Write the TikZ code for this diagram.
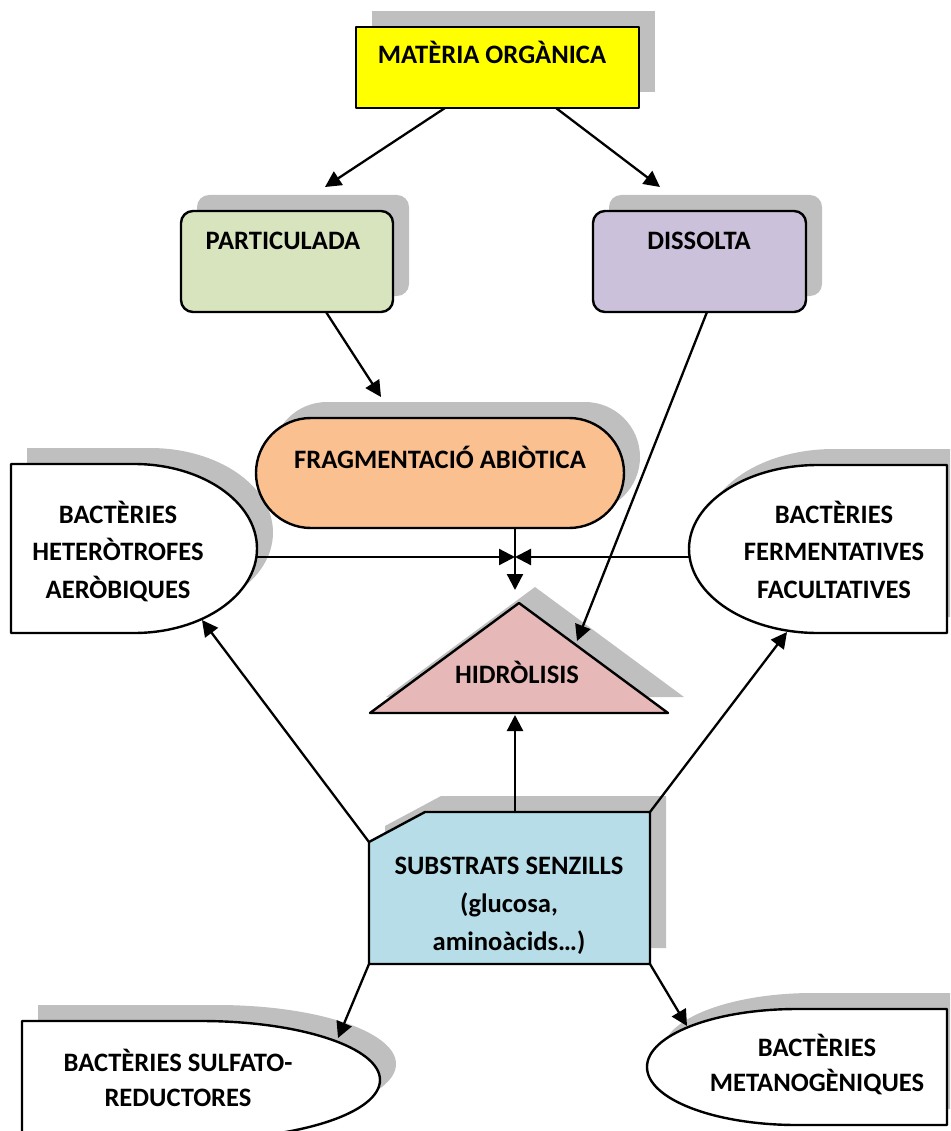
\documentclass[tikz,border=0pt]{standalone}
\usepackage{fontspec}
\setmainfont{Carlito}
\usetikzlibrary{arrows.meta}
\definecolor{shd}{HTML}{BFBFBF}
\definecolor{cyel}{HTML}{FFFF00}
\definecolor{cgrn}{HTML}{D7E4BD}
\definecolor{cpur}{HTML}{CCC1DA}
\definecolor{corg}{HTML}{FAC090}
\definecolor{cpnk}{HTML}{E6B9B8}
\definecolor{cblu}{HTML}{B7DEE8}
\begin{document}
\begin{tikzpicture}[x=1pt,y=1pt,
  shp/.style={draw=black, line width=2.4pt, line join=round},
  shdw/.style={fill=shd},
  lbl/.style={font=\fontsize{26.6}{37.5}\selectfont\bfseries, inner sep=0pt, align=center, anchor=base},
  conn/.style={draw, line width=2.3pt, -{Triangle[length=16pt,width=16pt]}}]
\useasboundingbox (0,0) rectangle (950,-1131);
\clip (0,0) rectangle (950,-1131);
% ---------- shadows ----------
\begin{scope}[shift={(16,16)}]
  \fill[shdw] (356,-27) rectangle (639,-108);
  \fill[shdw, rounded corners=12] (181,-211) rectangle (393,-312);
  \fill[shdw, rounded corners=12] (593,-211) rectangle (806,-312);
  \fill[shdw, rounded corners=55] (256,-418) rectangle (624,-528);
  \fill[shdw] (11,-464) -- (134,-464) arc[start angle=90, end angle=-90, x radius=123, y radius=84.5] -- (11,-633) -- cycle;
  \fill[shdw] (947,-465) -- (818,-465) arc[start angle=90, end angle=270, x radius=129, y radius=84] -- (947,-633) -- cycle;
  \fill[shdw] (370,-713) -- (519,-603) -- (668,-713) -- cycle;
  \fill[shdw] (369,-842) -- (425,-812) -- (650,-812) -- (650,-964) -- (369,-964) -- cycle;
  \fill[shdw] (22,-1021) -- (201,-1021) arc[start angle=90, end angle=-90, x radius=179, y radius=59] -- (22,-1139) -- cycle;
  \fill[shdw] (947,-1009) -- (797,-1009) arc[start angle=90, end angle=270, x radius=150, y radius=58] -- (947,-1125) -- cycle;
\end{scope}
% ---------- shapes ----------
\path[shp, fill=cyel] (356,-27) rectangle (639,-108);
\path[shp, fill=cgrn, rounded corners=12] (181,-211) rectangle (393,-312);
\path[shp, fill=cpur, rounded corners=12] (593,-211) rectangle (806,-312);
\path[shp, fill=corg, rounded corners=55] (256,-418) rectangle (624,-528);
\path[shp, fill=white] (11,-464) -- (134,-464) arc[start angle=90, end angle=-90, x radius=123, y radius=84.5] -- (11,-633) -- cycle;
\path[shp, fill=white] (947,-465) -- (818,-465) arc[start angle=90, end angle=270, x radius=129, y radius=84] -- (947,-633) -- cycle;
\path[shp, fill=cpnk] (370,-713) -- (519,-603) -- (668,-713) -- cycle;
\path[shp, fill=cblu] (369,-842) -- (425,-812) -- (650,-812) -- (650,-964) -- (369,-964) -- cycle;
\path[shp, fill=white] (22,-1021) -- (201,-1021) arc[start angle=90, end angle=-90, x radius=179, y radius=59] -- (22,-1139) -- cycle;
\path[shp, fill=white] (947,-1009) -- (797,-1009) arc[start angle=90, end angle=270, x radius=150, y radius=58] -- (947,-1125) -- cycle;
% ---------- labels (base = last line baseline) ----------
\node[lbl] (mo) at (492,-64) {MATÈRIA ORGÀNICA};
\node[lbl] (part) at (283,-250) {PARTICULADA};
\node[lbl] (diss) at (699,-250) {DISSOLTA};
\node[lbl] (frag) at (440,-468) {FRAGMENTACIÓ ABIÒTICA};
\node[lbl] (hidr) at (517,-683) {HIDRÒLISIS};
\node[lbl] (het) at (118,-598) {BACTÈRIES\\HETERÒTROFES\\AERÒBIQUES};
\node[lbl] (ferm) at (834,-598) {BACTÈRIES\\FERMENTATIVES\\FACULTATIVES};
\node[lbl, font=\fontsize{26.6}{38}\selectfont\bfseries] (subs) at (509,-950) {SUBSTRATS SENZILLS\\(glucosa,\\aminoàcids…)};
\node[lbl, font=\fontsize{26.6}{34.5}\selectfont\bfseries] (sulf) at (178,-1106) {BACTÈRIES SULFATO-\\REDUCTORES};
\node[lbl, font=\fontsize{26.6}{35}\selectfont\bfseries] (meta) at (817,-1091) {BACTÈRIES\\METANOGÈNIQUES};
% ---------- connector ends ----------
\coordinate (mo-l) at (445,-108);
\coordinate (mo-r) at (556,-108);
\coordinate (part-t) at (325,-187);
\coordinate (diss-t) at (660,-187);
\coordinate (part-b) at (326,-312);
\coordinate (frag-t) at (381,-397);
\coordinate (diss-b) at (707,-312);
\coordinate (hidr-e) at (577,-641);
\coordinate (frag-b) at (515,-528);
\coordinate (junc) at (515,-557);
\coordinate (junc-d) at (515,-590);
\coordinate (het-r) at (257,-557);
\coordinate (ferm-l) at (689,-557);
\coordinate (hidr-b) at (515,-715);
\coordinate (subs-t) at (515,-812);
\coordinate (subs-tl) at (369,-842);
\coordinate (subs-tr) at (650,-812);
\coordinate (subs-bl) at (369,-964);
\coordinate (subs-br) at (650,-964);
\coordinate (het-b) at (202,-620);
\coordinate (ferm-b) at (787,-632);
\coordinate (sulf-t) at (338,-1038);
\coordinate (meta-t) at (687,-1026);
% ---------- connectors ----------
\draw[conn] (mo-l) -- (part-t);
\draw[conn] (mo-r) -- (diss-t);
\draw[conn] (part-b) -- (frag-t);
\draw[conn] (diss-b) -- (hidr-e);
\draw[conn] (frag-b) -- (junc-d);
\draw[conn] (het-r) -- (junc);
\draw[conn] (ferm-l) -- (junc);
\draw[conn] (subs-t) -- (hidr-b);
\draw[conn] (subs-tl) -- (het-b);
\draw[conn] (subs-tr) -- (ferm-b);
\draw[conn] (subs-bl) -- (sulf-t);
\draw[conn] (subs-br) -- (meta-t);
\end{tikzpicture}
\end{document}
